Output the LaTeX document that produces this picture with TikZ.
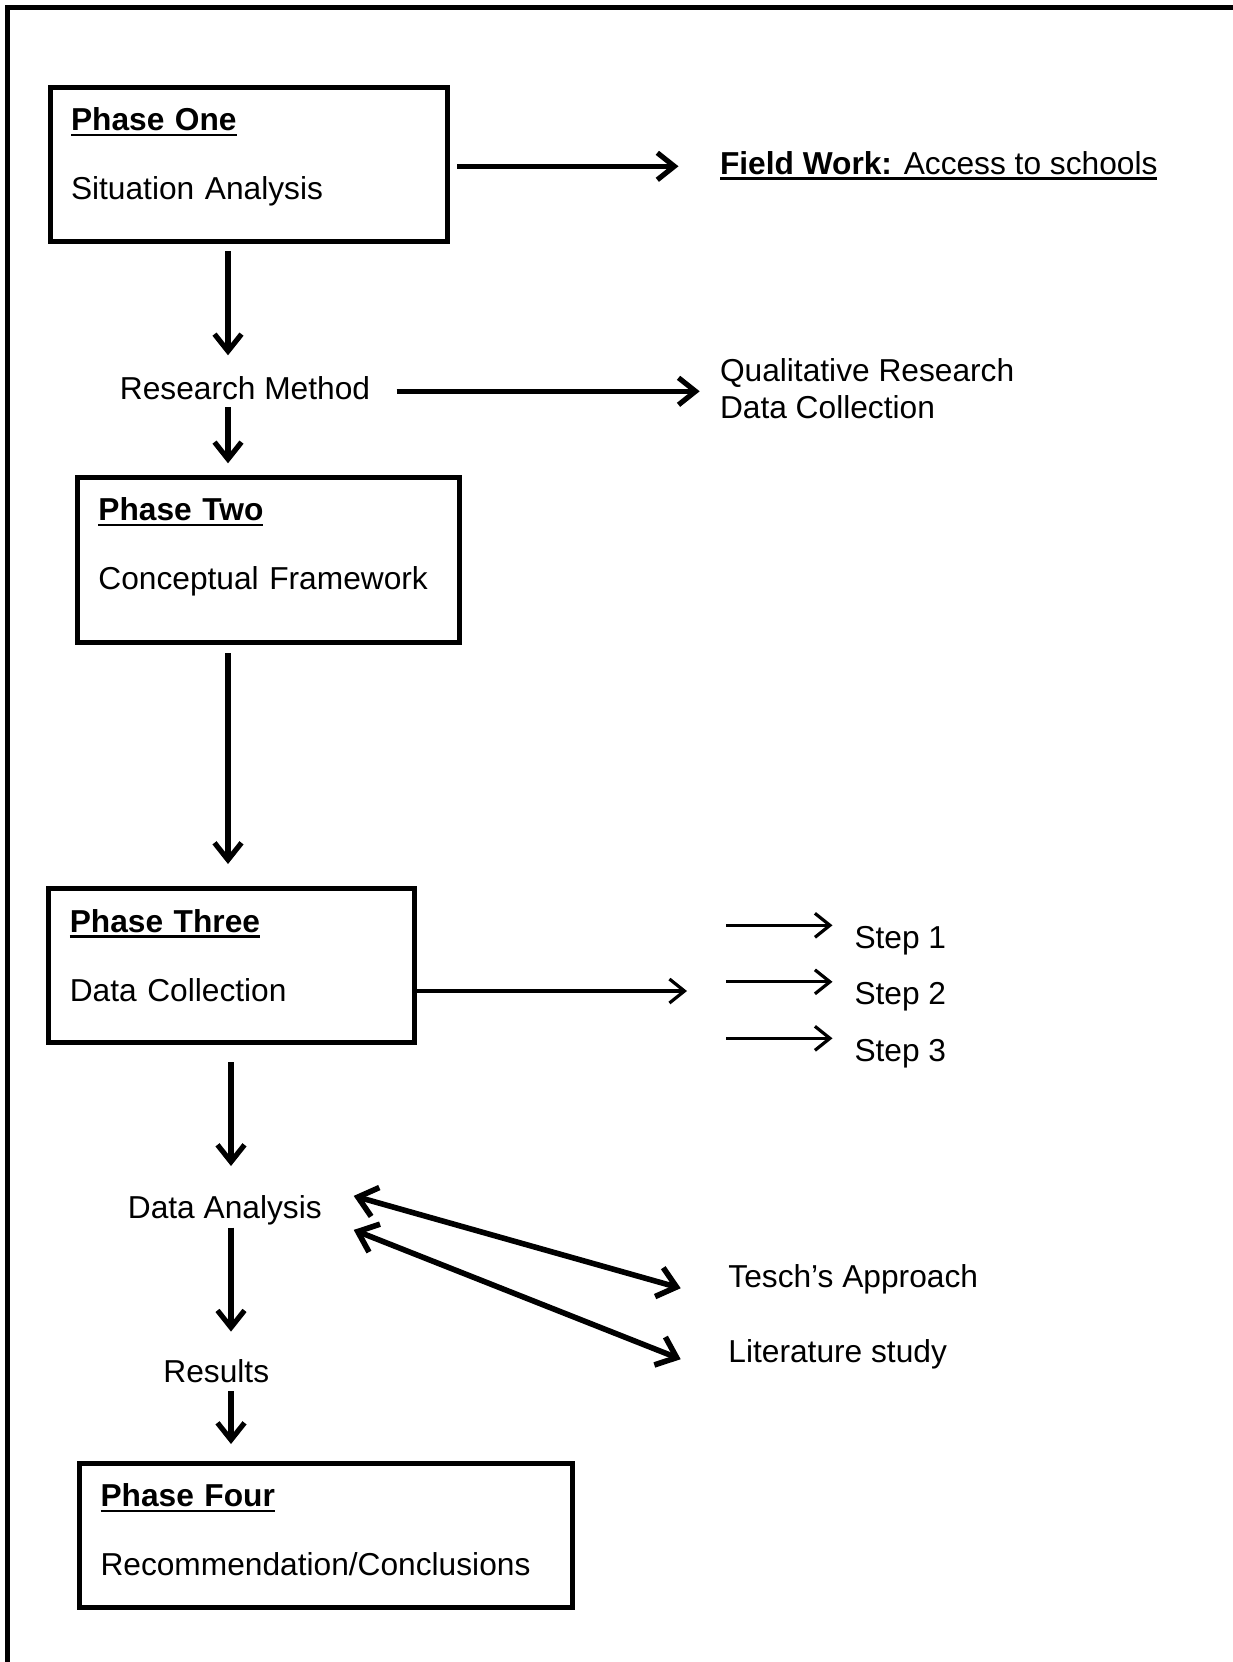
\documentclass[tikz,border=0pt]{standalone}
\usepackage{fontspec}
\setmainfont{Liberation Sans}
\usetikzlibrary{arrows.meta}

\newcommand\chartfont{\fontsize{31.7}{69}\selectfont}
\newcommand\ulbox[1]{\setbox0=\hbox{#1}\rlap{\rule[-5.5pt]{\wd0}{2.8pt}}\box0}

\tikzset{
  phase/.style={draw, line width=5pt, anchor=north west, inner xsep=21pt, inner ysep=0pt,
    outer sep=0pt, align=left, text height=43.8pt, font=\chartfont},
  txt/.style={inner sep=0pt, outer sep=0pt, font=\chartfont},
  lbl/.style={txt, text height=23pt, text depth=7pt},
  arr/.style={line width=5.2pt, -{Straight Barb[length=17pt,width=27pt]}},
  steparr/.style={line width=3.2pt, -{Straight Barb[length=15pt,width=24pt]}},
  dblarr/.style={line width=5.6pt, {Straight Barb[length=18pt,width=30pt]}-{Straight Barb[length=18pt,width=30pt]}},
}

\begin{document}
\begin{tikzpicture}[x=1pt, y=-1pt]
  \useasboundingbox (0,0) rectangle (1233,1662);
  \draw[line width=5pt] (7.5,1670) -- (7.5,7.5) -- (1240,7.5);
  \coordinate (spine) at (228,0);
  \coordinate (lowspine) at (231,0);

  % phases
  \node (one)[phase, text width=355pt, text depth=110.2pt] at (50,87) {\ulbox{\textbf{Phase One}}\\Situation Analysis};
  \node (two)[phase, text width=339.6pt, text depth=121.7pt] at (77.4,477) {\ulbox{\textbf{Phase Two}}\\Conceptual Framework};
  \node (three)[phase, text width=323.7pt, text depth=109.7pt] at (48.8,888.5) {\ulbox{\textbf{Phase Three}}\\Data Collection};
  \node (four)[phase, text width=451pt, text depth=100.2pt] at (79.5,1463) {\ulbox{\textbf{Phase Four}}\\Recommendation/Conclusions};

  % labels
  \node (field)[lbl, anchor=west] at (720,166.3) {\ulbox{\textbf{Field Work:} Access to schools}};
  \node (rm)[lbl] at (245,391.3) {Research Method};
  \node (qual)[txt, anchor=west, align=left, font=\fontsize{31.7}{37}\selectfont] at (720,388.5) {Qualitative Research\\Data Collection};
  \node (step1)[lbl, anchor=west] at (854.5,940.3) {Step 1};
  \node (step2)[lbl, node distance=56.5pt, below of=step1] {Step 2};
  \node (step3)[lbl, node distance=56.5pt, below of=step2] {Step 3};
  \coordinate (dcend) at (687,991);
  \node (da)[lbl] at (224.8,1210.9) {Data Analysis};
  \node (tesch)[lbl, anchor=west] at (728.4,1279.8) {Tesch's Approach};
  \node (lit)[lbl, anchor=west] at ([yshift=-74.2pt]tesch.west) {Literature study};
  \node (res)[lbl] at (216.3,1374.1) {Results};

  % main line
  \draw[arr, shorten <=10.3pt, shorten >=21pt] (one.south -| spine) -- (rm.north -| spine);
  \draw[arr, shorten <=1pt, shorten >=13.7pt] (rm.south -| spine) -- (two.north -| spine);
  \draw[arr, shorten <=10.5pt, shorten >=24.5pt] (two.south -| spine) -- (three.north -| spine);
  \draw[arr, shorten <=20.3pt, shorten >=29.9pt] (three.south -| lowspine) -- (da.north -| lowspine);
  \draw[arr, shorten <=1.8pt, shorten >=27.5pt] (da.south -| lowspine) -- (res.north -| lowspine);
  \draw[arr, shorten <=1.9pt, shorten >=19pt] (res.south -| lowspine) -- (four.north -| lowspine);

  % side branches
  \draw[arr, shorten <=10pt, shorten >=41.5pt] (one.east |- field.west) -- (field.west);
  \draw[arr, shorten <=26.5pt, shorten >=20.3pt] (rm.east) -- (rm.east -| qual.west);
  \draw[steparr] (three.east |- dcend) -- (dcend);
  \draw[steparr] ([xshift=-128.5pt, yshift=15pt]step1.west) -- ([xshift=-22pt, yshift=15pt]step1.west);
  \draw[steparr] ([xshift=-128.5pt, yshift=15pt]step2.west) -- ([xshift=-22pt, yshift=15pt]step2.west);
  \draw[steparr] ([xshift=-128.5pt, yshift=15pt]step3.west) -- ([xshift=-22pt, yshift=15pt]step3.west);
  \draw[dblarr] ([xshift=32pt, yshift=15pt]da.east) -- ([xshift=-47.7pt, yshift=-8.4pt]tesch.west);
  \draw[dblarr] ([xshift=32pt, yshift=-19pt]da.east) -- ([xshift=-47.7pt, yshift=-5.2pt]lit.west);
\end{tikzpicture}
\end{document}
